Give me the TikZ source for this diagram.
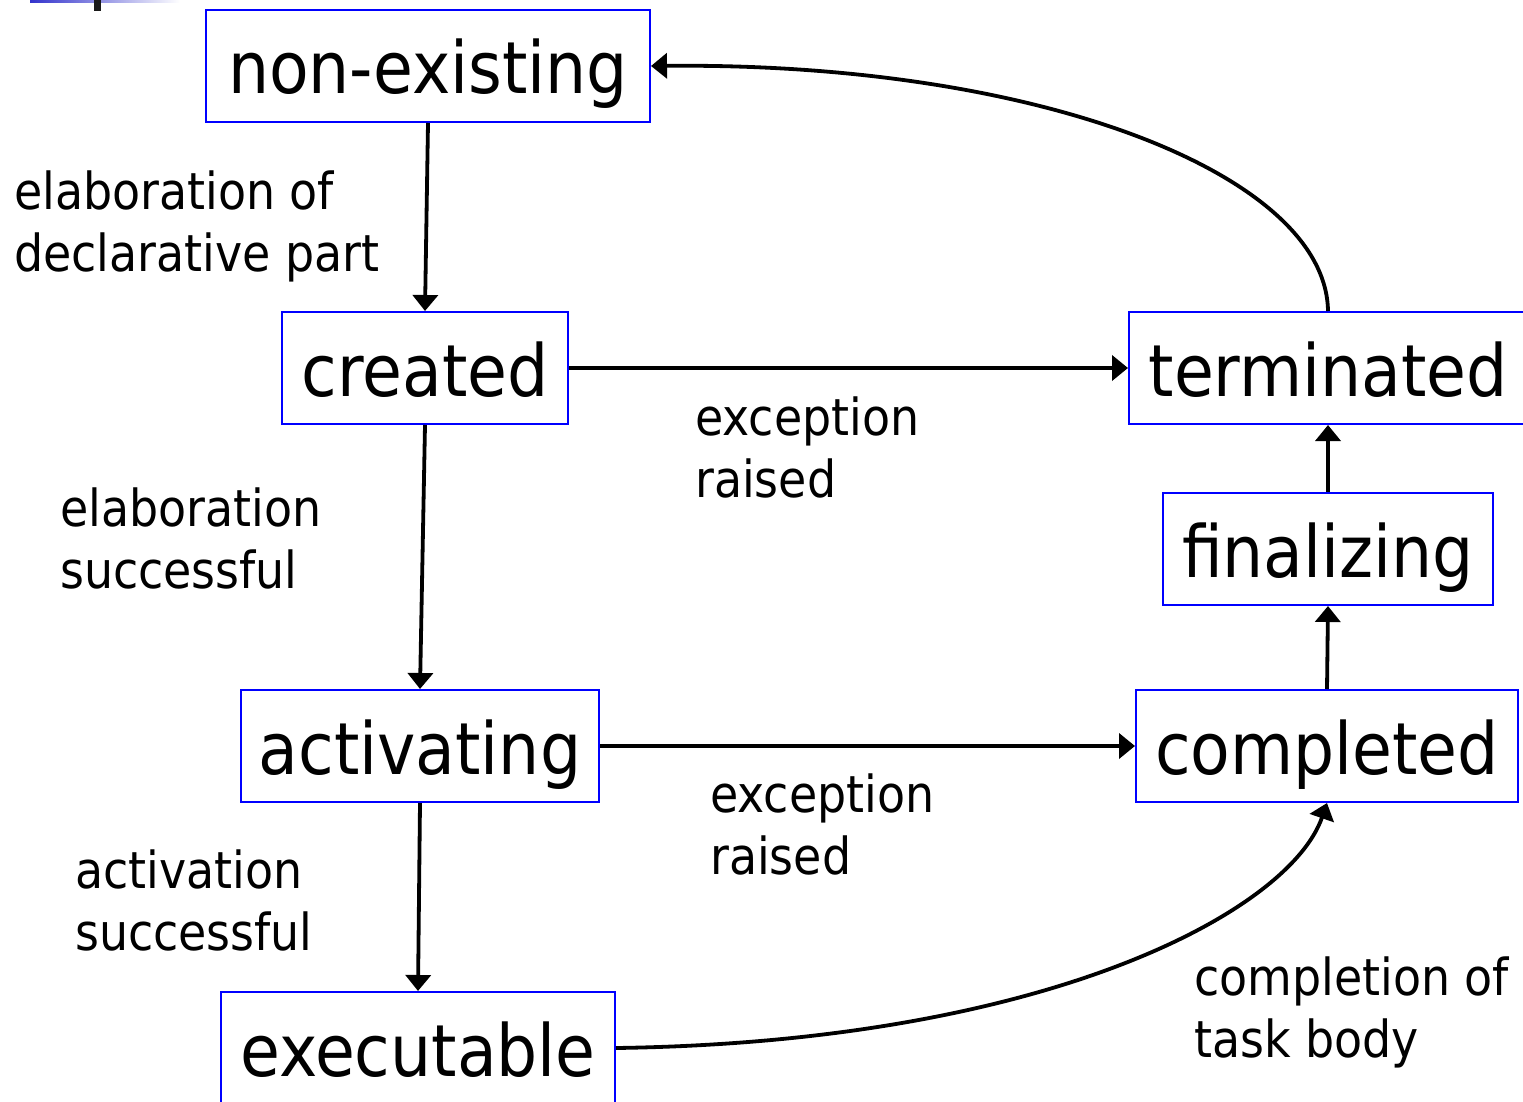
\documentclass[tikz,border=0pt]{standalone}
\usepackage{fontspec}
\setmainfont{DejaVu Sans Condensed}
\usetikzlibrary{arrows.meta}
\begin{document}
\begin{tikzpicture}[x=1pt,y=-1pt,
  state/.style={draw=blue,line width=2pt,inner sep=0pt,minimum height=112pt,
    text height=56pt,text depth=0pt,font=\fontsize{72}{80}\selectfont},
  lbl/.style={anchor=north west,inner sep=0pt,align=left,font=\fontsize{51}{62}\selectfont},
  conn/.style={line width=3.8pt,-{Triangle[length=16pt,width=25pt]}}]
\useasboundingbox (0,0) rectangle (1523,1102);
% slide header fragment
\shade[left color={rgb,255:red,51;green,51;blue,204},right color=white] (30,0) rectangle (180,2.5);
\fill[black!90] (94,0) rectangle (101,11);
% states
\node[state,minimum width=444pt] (ne) at (428,66) {non-existing};
\node[state,minimum width=286pt] (cr) at (425,368) {created};
\node[state,minimum width=398pt] (te) at (1328,368) {terminated};
\node[state,minimum width=330pt] (fi) at (1328,549) {finalizing};
\node[state,minimum width=358pt] (ac) at (420,746) {activating};
\node[state,minimum width=382pt] (co) at (1327,746) {completed};
\node[state,minimum width=394pt] (ex) at (418,1048) {executable};
% labels
\node[lbl] (l1) at (14,169) {\rule{0pt}{40pt}elaboration of\\declarative part};
\node[lbl] (l2) at (60,486) {\rule{0pt}{40pt}elaboration\\successful};
\node[lbl] (l3) at (695,395) {\rule{0pt}{40pt}exception\\raised};
\node[lbl] (l4) at (75,848) {\rule{0pt}{40pt}activation\\successful};
\node[lbl] (l5) at (710,772) {\rule{0pt}{40pt}exception\\raised};
\node[lbl] (l6) at (1194,955) {\rule{0pt}{40pt}completion of\\task body};
% connectors
\draw[conn] (ne.south) -- (cr.north);
\draw[conn] (cr.south) -- (ac.north);
\draw[conn] (ac.south) -- (ex.north);
\draw[conn] (cr.east) -- (te.west);
\draw[conn] (ac.east) -- (co.west);
\draw[conn] (co.north) -- (fi.south);
\draw[conn] (fi.north) -- (te.south);
\draw[conn] (ex.east) .. controls (1050,1042) and (1290,910) .. (co.south);
\draw[conn] (te.north) .. controls (1326,175) and (1040,62) .. (ne.east);
\end{tikzpicture}
\end{document}
